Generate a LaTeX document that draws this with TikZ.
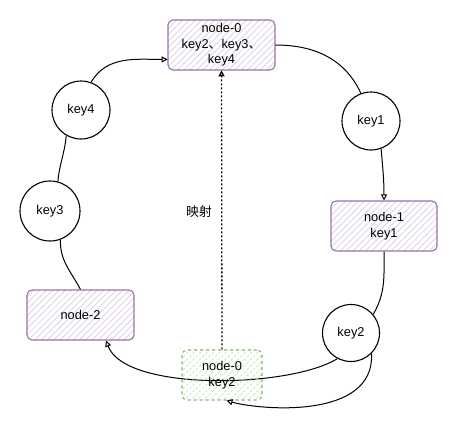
\documentclass[tikz,border=0pt]{standalone}
\usepackage{fontspec}
\setmainfont{Liberation Sans}
\newfontfamily\cjk{Noto Sans CJK SC}
\usetikzlibrary{arrows.meta,patterns.meta,shapes.geometric}
\definecolor{pstroke}{HTML}{9673A6}
\definecolor{phatch}{HTML}{D9CBE2}
\definecolor{gstroke}{HTML}{82B366}
\definecolor{ghatch}{HTML}{C9E2C5}
\tikzset{
  every node/.style={font=\fontsize{12.8}{15.5}\selectfont, align=center, inner sep=0pt},
  pbox/.style={draw=pstroke, line width=1.1pt, rounded corners=5pt,
    pattern={Lines[angle=45,distance=4.5pt,line width=0.7pt]}, pattern color=phatch,
    minimum width=107pt, minimum height=50pt},
  gbox/.style={draw=gstroke, line width=1.1pt, rounded corners=5pt, dashed,
    pattern={Lines[angle=45,distance=4.5pt,line width=0.7pt]}, pattern color=ghatch,
    minimum width=80pt, minimum height=50pt},
  keyc/.style={circle, draw=black, line width=1.1pt, minimum size=58pt},
  conn/.style={draw=black, line width=1pt},
  tip/.style={-{Triangle[open,length=6pt,width=6pt]}},
}
\begin{document}
\begin{tikzpicture}[x=1pt,y=-1pt]
\useasboundingbox (0,0) rectangle (457,432);
% nodes
\node[pbox] (n0) at (221.5,45) {node-0\\key2{\cjk 、}key3{\cjk 、}\\key4};
\node[pbox, minimum width=106pt] (n1) at (384,226) {node-1\\key1};
\node[pbox] (n2) at (80.5,315) {node-2};
\node[keyc] (k1) at (371,121) {key1};
\node[keyc, minimum size=57pt] (k2) at (351,333) {key2};
\node[keyc, minimum size=60pt] (k3) at (50,211) {key3};
\node[keyc] (k4) at (81,110) {key4};
\node (lbl) at (199,212) {\cjk 映射};
% connectors behind the green box
\draw[conn,tip] (k2.-118) .. controls (290,388) and (125,392) .. (n2.-45);
\node[gbox] (n0b) at (222,375) {node-0\\key2};
% other connectors
\draw[conn,tip] (k4.70) to[out=60,in=180] (n0.-165);
\draw[conn] (n0.east) to[out=0,in=115] (k1.110);
\draw[conn,tip] (k1.-70) to[out=-85,in=90] (n1.north);
\draw[conn] (n1.south) to[out=-90,in=60] (k2.40);
\draw[conn,tip] (k2.-45) .. controls (375,420) and (260,410) .. (n0b.-80);
\draw[conn] (k3.-70) to[out=-92,in=118] (n2.north);
\draw[conn] (k4.-120) to[out=-95,in=85] (k3.75);
\draw[conn,tip,line width=1.3pt,dash pattern=on 2pt off 2pt] (n0b.north) -- (n0.south);
\end{tikzpicture}
\end{document}
